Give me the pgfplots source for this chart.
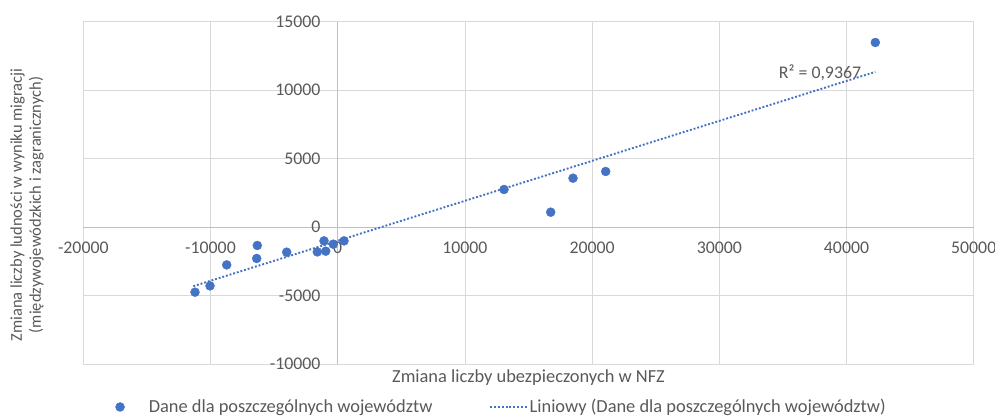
\documentclass[border=0pt]{standalone}
\usepackage{pgfplots}
\pgfplotsset{compat=1.18}
\usepackage{fontspec}
\setmainfont{Carlito}
\definecolor{xblue}{HTML}{4472C4}
\definecolor{txt}{HTML}{595959}
\definecolor{grd}{HTML}{D9D9D9}
\definecolor{axl}{HTML}{BFBFBF}

\pgfplotsset{
  legA/.style={legend image code/.code={\path (-5pt,0pt) (26.6pt,0pt); \draw[##1] plot coordinates {(0pt,0pt)};}},
  legB/.style={legend image code/.code={\draw[##1] (0pt,0pt) -- (36.3pt,0pt);}},
}

\pgfplotstableread{
x y
-11218 -4755
-10039 -4294
-8726 -2761
-6321 -1344
-6368 -2293
-4009 -1833
-1604 -1811
-1077 -1008
-943 -1760
-346 -1249
495 -1008
13074 2746
16745 1088
18498 3571
21069 4061
42264 13482
}\pts

\begin{document}
\fontsize{18.4pt}{20.5pt}\selectfont
\begin{tikzpicture}
\begin{axis}[
  scale only axis, width=890.4pt, height=342.3pt,
  xmin=-20000, xmax=50000, ymin=-10000, ymax=15000,
  xtick distance=10000, ytick distance=5000,
  scaled ticks=false,
  axis lines=middle,
  axis line style={axl, line width=0.8pt, -},
  grid=major, major grid style={grd, line width=0.8pt},
  major tick length=0pt,
  hide obscured x ticks=false, hide obscured y ticks=false,
  /pgf/number format/1000 sep={},
  /pgf/number format/assume math mode=true,
  tick label style={font=\fontsize{17.8pt}{20pt}\selectfont, text=txt},
  xticklabel style={anchor=north, yshift=-9pt},
  yticklabel style={anchor=east, xshift=-11pt},
  xlabel={Zmiana liczby ubezpieczonych w NFZ},
  xlabel style={at={(axis description cs:0.5,-0.040)}, anchor=center, text=txt, font=\fontsize{18.4pt}{20.5pt}\selectfont},
  ylabel={Zmiana liczby ludności w wyniku migracji\\(międzywojewódzkich i zagranicznych)},
  ylabel style={at={(axis description cs:-0.0632,0.4645)}, anchor=center, rotate=90, align=center, text=txt, font=\fontsize{16.5pt}{19pt}\selectfont},
  legend columns=2,
  legend style={at={(axis description cs:0.4694,-0.1256)}, anchor=center, draw=none, fill=none,
    text=txt, font=\fontsize{18.4pt}{20.5pt}\selectfont,
    /tikz/every even column/.append style={column sep=55pt}},
]
\addplot[only marks, mark=*, mark size=4.5pt, color=xblue, mark options={draw=xblue, fill=xblue}, legA]
  table[x=x, y=y] {\pts};
\addlegendentry{Dane dla poszczególnych województw}
\addplot[xblue, line width=1.9pt, dash pattern=on 1.9pt off 1.9pt, legB]
  coordinates {(-11352,-4316) (42264,11335)};
\addlegendentry{Liniowy (Dane dla poszczególnych województw)}
\node[text=txt, anchor=center, font=\fontsize{17.8pt}{20pt}\selectfont] at (axis cs:37917,11291) {R² = 0,9367};
\end{axis}
\path (current axis.south west) ++(-83.3pt,-52pt) coordinate (BBA);
\path (current axis.north east) ++(21.3pt,21.7pt) coordinate (BBB);
\pgfresetboundingbox
\path (BBA) rectangle (BBB);
\end{tikzpicture}
\end{document}
